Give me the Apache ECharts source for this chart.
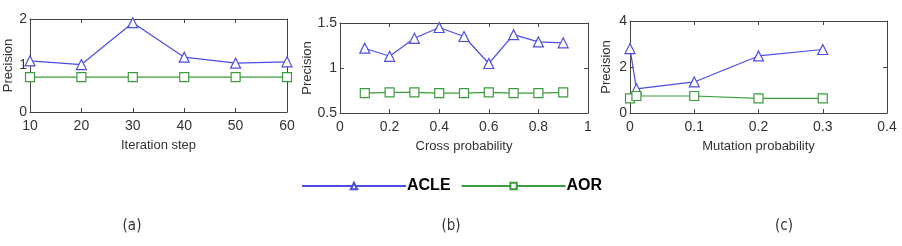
<!DOCTYPE html>
<html>
<head>
<meta charset="utf-8">
<script src="https://cdn.jsdelivr.net/npm/echarts@6/dist/echarts.min.js"></script>
<style>
  html, body { margin: 0; padding: 0; background: #fff; }
  #main { width: 902px; height: 246px; }
</style>
</head>
<body>
<div id="main"></div>
<script>
// panel (a): iteration step
var iterSteps = [10, 20, 30, 40, 50, 60];
var iterAcle = [1.1, 1.02, 1.92, 1.18, 1.05, 1.08];
var iterAor = [0.75, 0.75, 0.75, 0.75, 0.75, 0.75];

// panel (b): cross probability
var crossProb = [0.1, 0.2, 0.3, 0.4, 0.5, 0.6, 0.7, 0.8, 0.9];
var crossAcle = [1.22, 1.13, 1.33, 1.45, 1.35, 1.05, 1.37, 1.29, 1.28];
var crossAor = [0.72, 0.73, 0.73, 0.72, 0.72, 0.73, 0.72, 0.72, 0.73];

// panel (c): mutation probability
var mutProb = [0, 0.01, 0.1, 0.2, 0.3];
var mutAcle = [2.8, 1.05, 1.35, 2.48, 2.76];
var mutAor = [0.64, 0.74, 0.74, 0.64, 0.64];

var xNames = ['Iteration step', 'Cross probability', 'Mutation probability'];
var panelLabels = ['(a)', '(b)', '(c)'];

var blue = '#4d4de0';
var green = '#3c9c3c';
var font = "'Liberation Sans Narrow', 'Liberation Sans', Arial, sans-serif";

function pairs(xs, ys) {
    return xs.map(function (x, i) { return [x, ys[i]]; });
}

var grids = [
    { left: 30, width: 257, top: 19, height: 93 },
    { left: 340, width: 248, top: 23, height: 90 },
    { left: 630, width: 257, top: 21, height: 92 }
];
var xRanges = [
    { min: 10, max: 60, interval: 10 },
    { min: 0, max: 1, interval: 0.2 },
    { min: 0, max: 0.4, interval: 0.1 }
];
var yRanges = [
    { min: 0, max: 2, interval: 1 },
    { min: 0.5, max: 1.5, interval: 0.5 },
    { min: 0, max: 4, interval: 2 }
];
var yNameGaps = [13, 22, 17];

var xAxes = [], yAxes = [];
var lineStyle = { color: '#444', width: 1 };
var labelStyle = { color: '#333', fontSize: 14, fontFamily: font };

for (var i = 0; i < 3; i++) {
    xAxes.push({
        type: 'value', gridIndex: i, min: xRanges[i].min, max: xRanges[i].max, interval: xRanges[i].interval,
        name: xNames[i], nameLocation: 'middle', nameGap: 27,
        nameTextStyle: { color: '#333', fontSize: 13, fontFamily: font },
        axisLine: { lineStyle: lineStyle }, axisTick: { inside: true, length: 4, lineStyle: lineStyle },
        axisLabel: Object.assign({ margin: 7 }, labelStyle), splitLine: { show: false }
    });
    yAxes.push({
        type: 'value', gridIndex: i, min: yRanges[i].min, max: yRanges[i].max, interval: yRanges[i].interval,
        name: 'Precision', nameLocation: 'middle', nameGap: yNameGaps[i],
        nameTextStyle: { color: '#333', fontSize: 13, fontFamily: font },
        axisLine: { lineStyle: lineStyle }, axisTick: { inside: true, length: 4, lineStyle: lineStyle },
        axisLabel: Object.assign({ margin: 3 }, labelStyle), splitLine: { show: false }
    });
}
for (var j = 0; j < 3; j++) {
    xAxes.push({
        type: 'value', gridIndex: j, position: 'top', min: xRanges[j].min, max: xRanges[j].max, interval: xRanges[j].interval,
        axisLine: { onZero: false, lineStyle: lineStyle }, axisTick: { inside: true, length: 4, lineStyle: lineStyle },
        axisLabel: { show: false }, splitLine: { show: false }
    });
    yAxes.push({
        type: 'value', gridIndex: j, position: 'right', min: yRanges[j].min, max: yRanges[j].max, interval: yRanges[j].interval,
        axisLine: { onZero: false, lineStyle: lineStyle }, axisTick: { inside: true, length: 4, lineStyle: lineStyle },
        axisLabel: { show: false }, splitLine: { show: false }
    });
}

var panels = [[iterSteps, iterAcle, iterAor], [crossProb, crossAcle, crossAor], [mutProb, mutAcle, mutAor]];
var series = [];
panels.forEach(function (p, k) {
    series.push({
        name: 'ACLE', type: 'line', xAxisIndex: k, yAxisIndex: k, data: pairs(p[0], p[1]),
        symbol: 'triangle', symbolSize: 10, showAllSymbol: true,
        lineStyle: { color: blue, width: 1.2 },
        itemStyle: { color: '#fff', borderColor: blue, borderWidth: 1.2 }
    });
    series.push({
        name: 'AOR', type: 'line', xAxisIndex: k, yAxisIndex: k, data: pairs(p[0], p[2]),
        symbol: 'rect', symbolSize: 9, showAllSymbol: true,
        lineStyle: { color: green, width: 1.2 },
        itemStyle: { color: '#fff', borderColor: green, borderWidth: 1.2 }
    });
});

var chart = echarts.init(document.getElementById('main'));
chart.setOption({
    animation: false,
    backgroundColor: '#fff',
    grid: grids,
    xAxis: xAxes,
    yAxis: yAxes,
    legend: {
        data: ['ACLE', 'AOR'],
        left: 296, top: 173,
        itemWidth: 104, itemHeight: 8, itemGap: 10,
        textStyle: { color: '#000', fontSize: 16, fontWeight: 'bold', fontFamily: "'Liberation Sans', Arial, sans-serif", padding: [0, 0, 0, -4] }
    },
    title: panelLabels.map(function (t, k) {
        return {
            text: t, left: [127, 446, 779][k], top: 214, textAlign: 'center',
            textStyle: { color: '#333', fontSize: 15, fontWeight: 'normal', fontFamily: "'DejaVu Sans Condensed', 'Liberation Sans', sans-serif" }
        };
    }),
    series: series
});
</script>
</body>
</html>
